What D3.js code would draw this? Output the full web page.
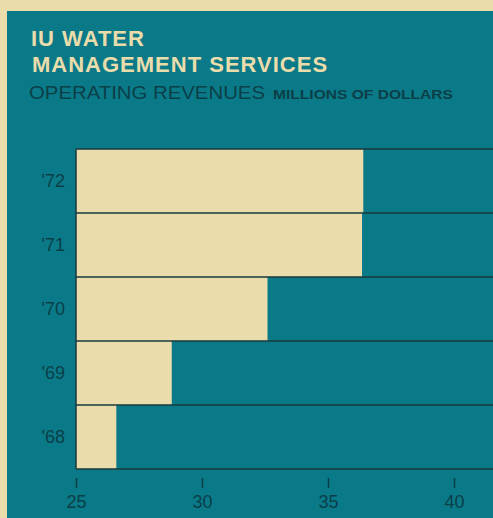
<!DOCTYPE html>
<html>
<head>
<meta charset="utf-8">
<script src="https://cdn.jsdelivr.net/npm/d3@7"></script>
<style>
  html, body { margin: 0; padding: 0; background: #eadcaa; }
  svg { display: block; }
</style>
</head>
<body>
<div id="chart"></div>
<script>
const years = ["'72", "'71", "'70", "'69", "'68"];
const revenues = [36.4, 36.35, 32.6, 28.8, 26.6];
const tickValues = [25, 30, 35, 40];

const width = 493;
const height = 518;
const cream = "#ebdcab";
const teal = "#0a7a88";
const ink = "#0b3f48";

const svg = d3.select("#chart").append("svg")
    .attr("width", width)
    .attr("height", height);

// cream page and teal panel
svg.append("rect").attr("width", width).attr("height", height).attr("fill", cream);
svg.append("rect")
    .attr("x", 7).attr("y", 11)
    .attr("width", width - 7).attr("height", height - 11)
    .attr("fill", teal);

// titles
svg.append("text")
    .attr("x", 31).attr("y", 46)
    .attr("font-family", "Liberation Sans, Arial, sans-serif")
    .attr("font-weight", "bold").attr("font-size", 22)
    .attr("letter-spacing", 1)
    .attr("fill", cream)
    .text("IU WATER");
svg.append("text")
    .attr("x", 32).attr("y", 72)
    .attr("font-family", "Liberation Sans, Arial, sans-serif")
    .attr("font-weight", "bold").attr("font-size", 22)
    .attr("letter-spacing", 1)
    .attr("fill", cream)
    .text("MANAGEMENT SERVICES");
svg.append("text")
    .attr("x", 29).attr("y", 99)
    .attr("font-family", "Liberation Sans, Arial, sans-serif")
    .attr("font-size", 18)
    .attr("textLength", 236).attr("lengthAdjust", "spacingAndGlyphs")
    .attr("fill", ink)
    .text("OPERATING REVENUES");
svg.append("text")
    .attr("x", 273).attr("y", 99)
    .attr("font-family", "Liberation Sans, Arial, sans-serif")
    .attr("font-weight", "bold").attr("font-size", 13)
    .attr("textLength", 180).attr("lengthAdjust", "spacingAndGlyphs")
    .attr("fill", ink)
    .text("MILLIONS OF DOLLARS");

// scales
const x = d3.scaleLinear().domain([25, 40]).range([76, 454]);
const y = d3.scaleBand().domain(years).range([149, 469]).padding(0);

// bars
svg.selectAll(".bar")
    .data(years)
    .enter().append("rect")
    .attr("class", "bar")
    .attr("x", x(25))
    .attr("y", d => y(d))
    .attr("width", (d, i) => x(revenues[i]) - x(25))
    .attr("height", y.bandwidth())
    .attr("fill", cream);

// row rules
const rules = years.map(d => y(d)).concat([y.range()[1]]);
svg.selectAll(".rule")
    .data(rules)
    .enter().append("line")
    .attr("class", "rule")
    .attr("x1", x(25)).attr("x2", width)
    .attr("y1", d => d).attr("y2", d => d)
    .attr("stroke", "#183a3c").attr("stroke-width", 1.5);
svg.append("line")
    .attr("x1", x(25)).attr("x2", x(25))
    .attr("y1", y.range()[0]).attr("y2", y.range()[1])
    .attr("stroke", "#183a3c").attr("stroke-width", 1.5);

// year labels
svg.selectAll(".year")
    .data(years)
    .enter().append("text")
    .attr("class", "year")
    .attr("x", 65)
    .attr("y", d => y(d) + y.bandwidth() / 2)
    .attr("dy", "0.36em")
    .attr("text-anchor", "end")
    .attr("font-family", "Liberation Sans, Arial, sans-serif")
    .attr("font-size", 18)
    .attr("fill", ink)
    .text(d => d);

// x axis
const axis = svg.append("g")
    .attr("transform", "translate(0,478)")
    .call(d3.axisBottom(x).tickValues(tickValues).tickSize(10).tickPadding(7).tickFormat(d3.format("d")));
axis.select(".domain").remove();
axis.selectAll(".tick line").attr("stroke", ink).attr("stroke-width", 1.5);
axis.selectAll(".tick text")
    .attr("font-family", "Liberation Sans, Arial, sans-serif")
    .attr("font-size", 18)
    .attr("fill", ink);
</script>
</body>
</html>
